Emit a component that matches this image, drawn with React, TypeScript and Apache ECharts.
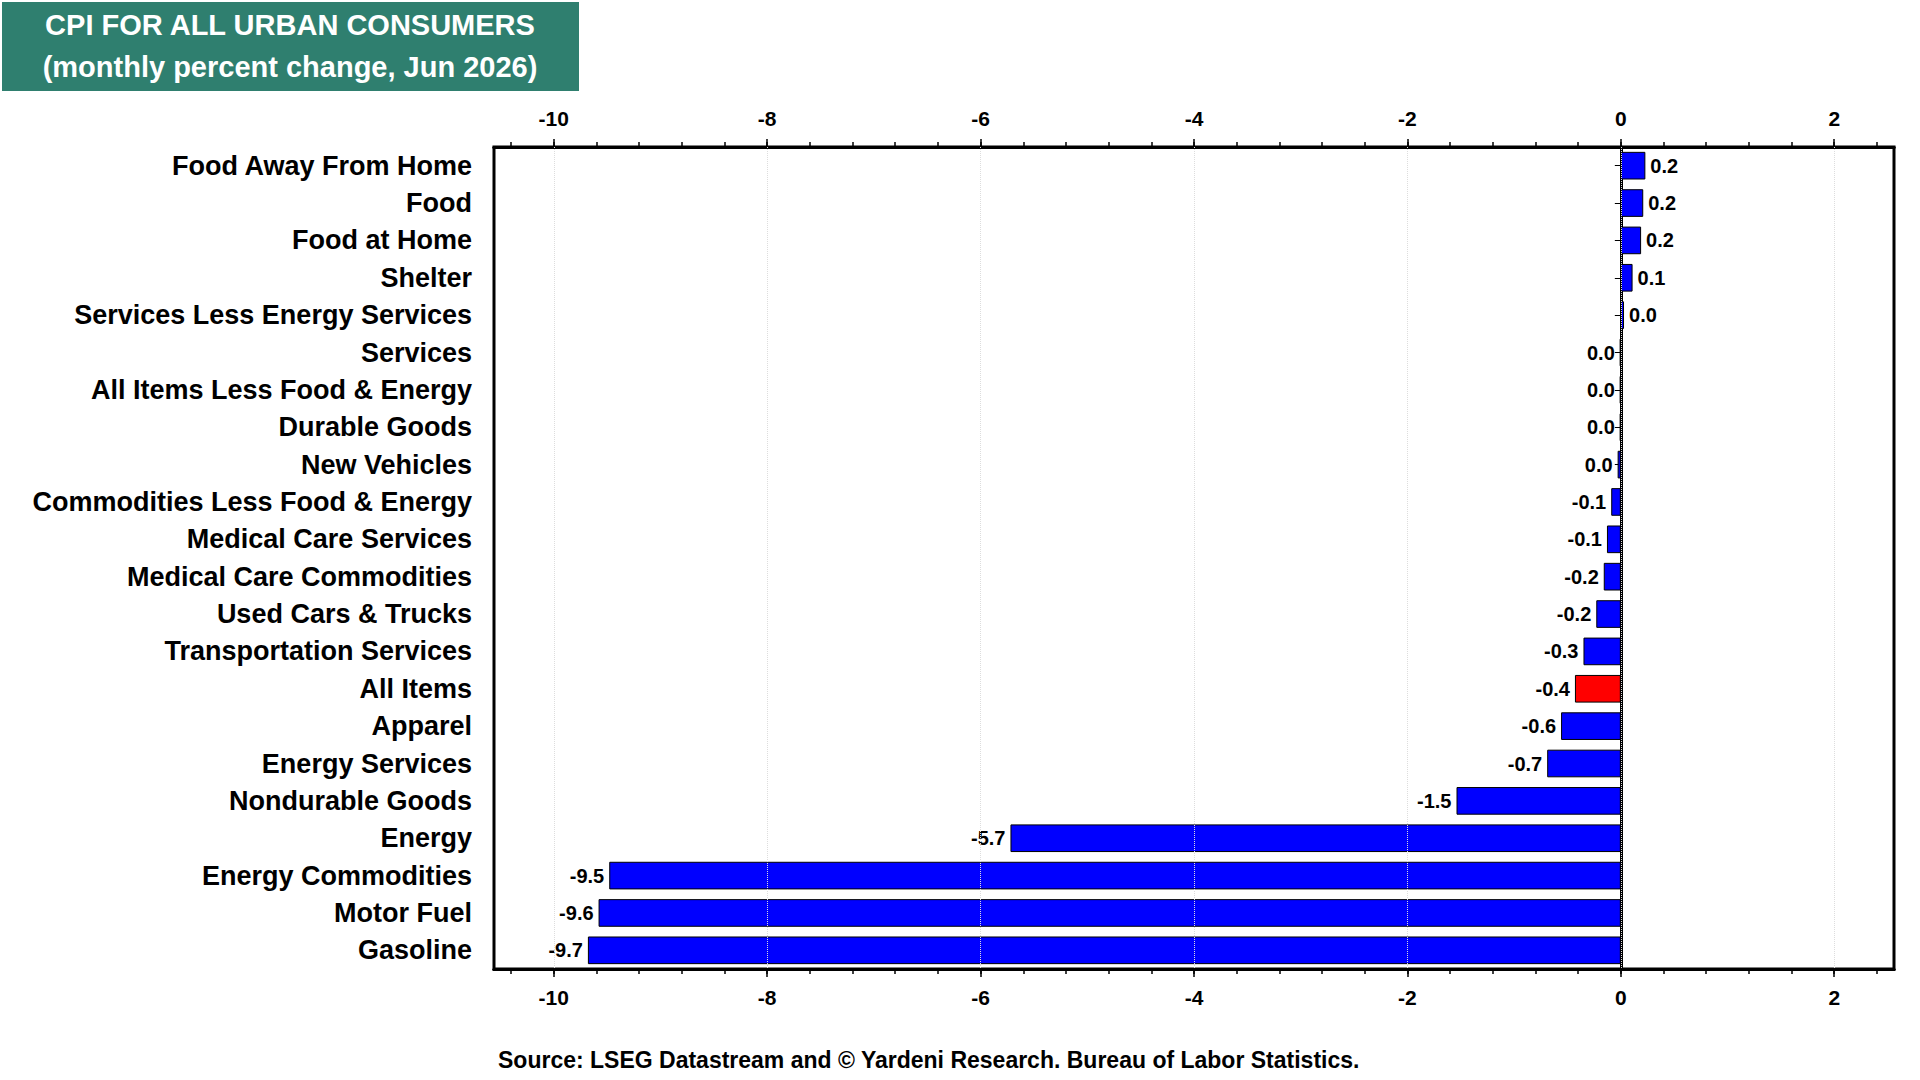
import React, { useEffect, useRef } from "react";
import * as echarts from "echarts";

const categories = ["Food Away From Home","Food","Food at Home","Shelter","Services Less Energy Services","Services","All Items Less Food & Energy","Durable Goods","New Vehicles","Commodities Less Food & Energy","Medical Care Services","Medical Care Commodities","Used Cars & Trucks","Transportation Services","All Items","Apparel","Energy Services","Nondurable Goods","Energy","Energy Commodities","Motor Fuel","Gasoline"];
const values = [0.23,0.21,0.19,0.11,0.03,-0.01,-0.01,-0.01,-0.03,-0.09,-0.13,-0.16,-0.23,-0.35,-0.43,-0.56,-0.69,-1.54,-5.72,-9.48,-9.58,-9.68];
const highlight = "All Items";
const majorTicks = [-10,-8,-6,-4,-2,0,2];
const minorTicks: number[] = [];
for (let i = -26; i <= 6; i++) minorTicks.push(Math.round(i * 4) / 10);

const fmt = (v: number) => (Math.abs(v) < 0.05 ? "0.0" : v.toFixed(1));

export default function App() {
  const ref = useRef<HTMLDivElement>(null);
  useEffect(() => {
    const chart = echarts.init(ref.current!, null, { renderer: "svg" });
    const font = "Liberation Sans, Arial, sans-serif";
    const mkAxis = (pos: string, labels: boolean, ticks: number[], len: number) => ({
      type: "value", position: pos, min: -10.56, max: 2.56,
      axisLine: { show: true, lineStyle: { color: "#000", width: 3 } },
      axisTick: { show: true, customValues: ticks, length: len, lineStyle: { color: "#000", width: 1.5 } },
      axisLabel: labels ? { show: true, customValues: majorTicks, color: "#000", fontSize: 21, fontWeight: "bold", fontFamily: font, margin: 18 } : { show: false },
      splitLine: { show: false },
      interval: 2,
    });
    chart.setOption({
      animation: false,
      grid: { left: 494, top: 147, width: 1400, height: 822, show: true, borderColor: "#000", borderWidth: 3 },
      xAxis: [
        mkAxis("top", true, majorTicks, 8),
        mkAxis("bottom", true, majorTicks, 8),
        mkAxis("top", false, minorTicks, 5),
        mkAxis("bottom", false, minorTicks, 5),
      ],
      yAxis: {
        type: "category", data: categories, inverse: true,
        axisLine: { show: true, lineStyle: { color: "#000", width: 3 } },
        axisTick: { show: true, alignWithLabel: true, length: 6, lineStyle: { color: "#000" } },
        axisLabel: { color: "#000", fontSize: 27, fontWeight: "bold", fontFamily: font, margin: 22 },
      },
      graphic: [
        { type: "rect", shape: { x: 2, y: 2, width: 577, height: 89 }, style: { fill: "#2f7f6f" } },
        { type: "text", x: 290, y: 25, style: { text: "CPI FOR ALL URBAN CONSUMERS", fill: "#fff", font: `bold 29px ${font}`, textAlign: "center", textVerticalAlign: "middle" } },
        { type: "text", x: 290, y: 67, style: { text: "(monthly percent change, Jun 2026)", fill: "#fff", font: `bold 29px ${font}`, textAlign: "center", textVerticalAlign: "middle" } },
        { type: "text", x: 498, y: 1060, style: { text: "Source: LSEG Datastream and © Yardeni Research. Bureau of Labor Statistics.", fill: "#000", font: `bold 23px ${font}`, textVerticalAlign: "middle" } },
      ],
      series: [
        {
          type: "bar", xAxisIndex: 0, barCategoryGap: "26%",
          data: values.map((v, i) => ({
            value: v,
            itemStyle: { color: categories[i] === highlight ? "#ff0000" : "#0000ff", borderColor: "#000", borderWidth: 1 },
            label: { position: v >= 0 && Math.abs(v) >= 0.02 ? "right" : "left" },
          })),
          label: { show: true, formatter: (p: any) => fmt(p.value), color: "#000", fontSize: 20, fontWeight: "bold", fontFamily: font, distance: 5 },
          markLine: {
            silent: true, symbol: "none", label: { show: false },
            lineStyle: { color: "#ddd", type: "dotted", width: 1 },
            data: majorTicks.map((t) => ({ xAxis: t })),
          },
        },
      ],
    });
    return () => chart.dispose();
  }, []);
  return <div ref={ref} style={{ position: "fixed", left: 0, top: 0, width: 1920, height: 1080, background: "#fff" }} />;
}
